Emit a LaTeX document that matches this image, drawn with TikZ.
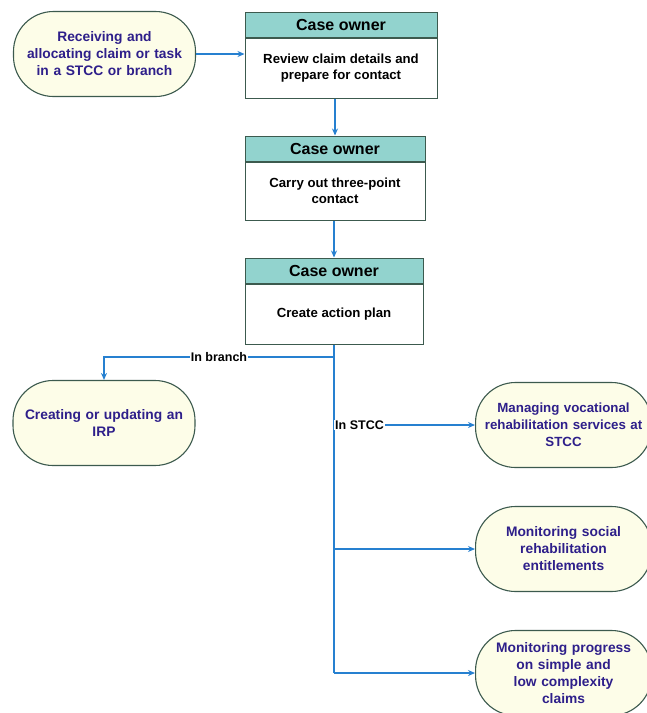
\documentclass[tikz,border=0pt]{standalone}
\usepackage{fontspec}
\setmainfont{Liberation Sans}
\usetikzlibrary{arrows.meta}
\definecolor{termfill}{HTML}{FDFDE8}
\definecolor{termline}{HTML}{3C5A4E}
\definecolor{termtext}{HTML}{2E1F8A}
\definecolor{headfill}{HTML}{92D3CE}
\definecolor{flow}{HTML}{2680D0}
\begin{document}
\begin{tikzpicture}[x=1pt,y=-1pt,
  terminal/.style={draw=termline,fill=termfill,line width=1.1pt,rounded corners=40pt,
    text=termtext,font=\bfseries\fontsize{13.8}{17}\selectfont,align=center,
    minimum height=85pt,inner sep=2pt},
  head/.style={draw=termline,fill=headfill,line width=1pt,font=\bfseries\fontsize{16}{18}\selectfont,
    minimum height=25pt,inner sep=0pt},
  body/.style={draw=termline,fill=white,line width=1pt,font=\bfseries\fontsize{13.2}{16}\selectfont,
    align=center,minimum height=60pt,inner sep=0pt},
  flowto/.style={draw=flow,line width=1.3pt,-{Stealth[length=7pt,width=6pt]}},
  cond/.style={fill=white,font=\bfseries\fontsize{12.5}{14}\selectfont,inner sep=1pt}]
\useasboundingbox (0,0) rectangle (646,713);

% start
\node[terminal,text width=178pt,minimum width=182pt] (start) at (104.5,54) {Receiving and\\allocating claim or task\\in a STCC or branch};

% case owner boxes
\node[head,minimum width=192pt] (hdA) at (341,24.5) {Case owner};
\node[body,minimum width=192pt,anchor=north] (bdA) at (hdA.south) {Review claim details and\\prepare for contact};
\node[head,minimum width=180pt] (hdB) at (335,148.5) {Case owner};
\node[body,minimum width=180pt,minimum height=58pt,anchor=north] (bdB) at (hdB.south) {Carry out three-point\\contact};
\node[head,minimum width=178pt] (hdC) at (334,270.5) {Case owner};
\node[body,minimum width=178pt,anchor=north] (bdC) at (hdC.south) {Create action plan};

% outcomes
\node[terminal,text width=178pt,minimum width=182pt] (irp) at (104,423) {Creating or updating an\\IRP};
\node[terminal,text width=170pt,minimum width=176pt,anchor=west,
  font=\bfseries\fontsize{13.3}{17}\selectfont] (voc) at (475,425) {Managing vocational\\rehabilitation services at\\STCC};
\node[terminal,text width=170pt,minimum width=176pt,anchor=west] (soc) at (475,549) {Monitoring social\\rehabilitation\\entitlements};
\node[terminal,text width=170pt,minimum width=176pt,anchor=west] (prog) at (475,673) {Monitoring progress\\on simple and\\low complexity\\claims};

\coordinate (fork) at (334,357);
\coordinate (low) at (334,673);

\path[flowto] (start.east) -- (start.east -| bdA.west);
\path[flowto] (hdB.north |- bdA.south) -- (hdB.north);
\path[flowto] (hdC.north |- bdB.south) -- (hdC.north);
\path[draw=flow,line width=1.3pt] (bdC.south) -- (low);
\path[flowto] (fork) -- node[cond] {In branch} (fork -| irp.north) -- (irp.north);
\node[cond,anchor=west] (stcc) at (334,425) {In STCC};
\path[flowto] (stcc) -- (voc);
\path[flowto] (334,549) -- (soc);
\path[flowto] (low) -- (prog);

\end{tikzpicture}
\end{document}
